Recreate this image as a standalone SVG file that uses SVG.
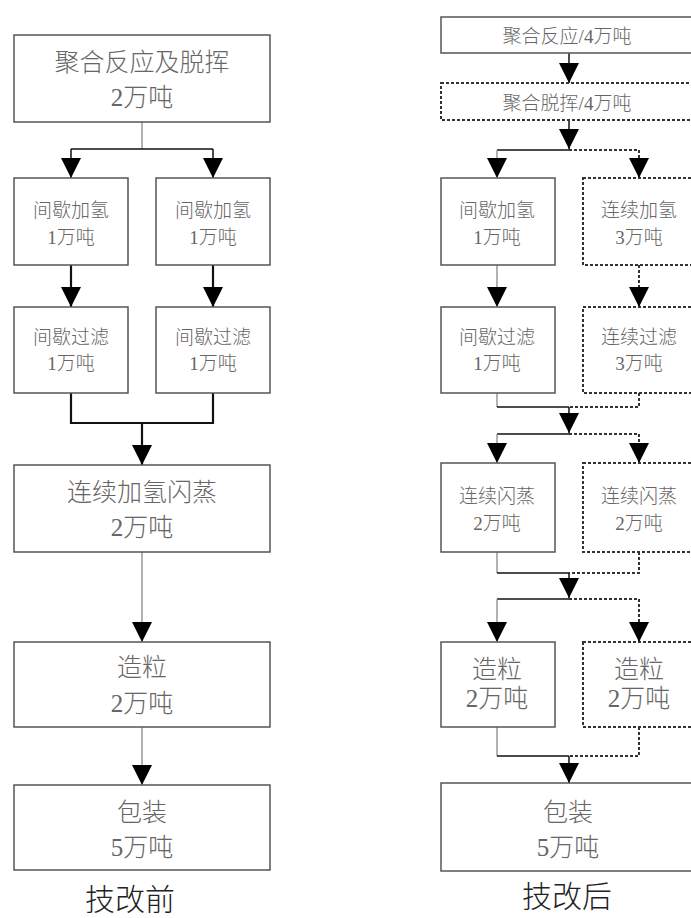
<svg xmlns="http://www.w3.org/2000/svg" width="691" height="918" viewBox="0 0 691 918">
<style>
.box{fill:#fff;stroke:#555;stroke-width:1.5}
.dbox{fill:#fff;stroke:#333;stroke-width:2;stroke-dasharray:3 2}
.t{font-family:"Liberation Serif","Noto Sans CJK SC",serif;font-weight:300;fill:#666;text-anchor:middle;dominant-baseline:central}
.s{font-size:19px}
.b{font-size:25px}
.title{font-size:30px;fill:#222}
.g{stroke:#999;stroke-width:1.5;fill:none}
.k{stroke:#111;stroke-width:1.5;fill:none}
.kk{stroke:#111;stroke-width:2.2;fill:none}
.d{stroke:#333;stroke-width:2;stroke-dasharray:3 2;fill:none}
</style>
<defs>
<marker id="ah" markerUnits="userSpaceOnUse" markerWidth="21" markerHeight="20" refX="20" refY="10" orient="auto" viewBox="0 0 21 20">
<path d="M0,0 L20,10 L0,20 Z" fill="#000"/>
</marker>
</defs>

<g id="connectors">
<path class="g" d="M142,122 V149"/>
<path class="k" d="M71,149 H213"/>
<path class="k" d="M71,149 V178" marker-end="url(#ah)"/>
<path class="k" d="M213,149 V178" marker-end="url(#ah)"/>
<path class="kk" d="M71,265 V307" marker-end="url(#ah)"/>
<path class="kk" d="M213,265 V307" marker-end="url(#ah)"/>
<path class="kk" d="M71,393 V423 H213 V393"/>
<path class="kk" d="M142,423 V465" marker-end="url(#ah)"/>
<path class="g" d="M142,552 V642" marker-end="url(#ah)"/>
<path class="g" d="M142,727 V785" marker-end="url(#ah)"/>
<path class="k" d="M569,53 V83" marker-end="url(#ah)"/>
<path class="k" d="M569,120 V149" marker-end="url(#ah)"/>
<path class="k" d="M569,150 H497"/>
<path class="g" d="M497,150 V178" marker-end="url(#ah)"/>
<path class="d" d="M569,150 H639 V178" marker-end="url(#ah)"/>
<path class="g" d="M497,265 V307" marker-end="url(#ah)"/>
<path class="d" d="M639,265 V307" marker-end="url(#ah)"/>
<path class="g" d="M497,393 V407"/>
<path class="k" d="M497,407 H569"/>
<path class="d" d="M639,393 V407 H569"/>
<path class="k" d="M569,407 V433" marker-end="url(#ah)"/>
<path class="k" d="M569,434 H497"/>
<path class="g" d="M497,434 V463" marker-end="url(#ah)"/>
<path class="d" d="M569,434 H639 V463" marker-end="url(#ah)"/>
<path class="g" d="M497,552 V573"/>
<path class="k" d="M497,573 H569"/>
<path class="d" d="M639,552 V573 H569"/>
<path class="k" d="M569,573 V598" marker-end="url(#ah)"/>
<path class="k" d="M569,599 H497"/>
<path class="g" d="M497,599 V642" marker-end="url(#ah)"/>
<path class="d" d="M569,599 H639 V642" marker-end="url(#ah)"/>
<path class="g" d="M497,727 V756"/>
<path class="k" d="M497,756 H569"/>
<path class="d" d="M639,727 V756 H569"/>
<path class="k" d="M569,756 V783" marker-end="url(#ah)"/>
</g>

<g id="L1"><rect class="box" x="14" y="35" width="256" height="87"/>
<text class="t b" x="142" y="62">聚合反应及脱挥</text><text class="t b" x="142" y="97">2万吨</text></g>
<g id="L2a"><rect class="box" x="14" y="178" width="114" height="87"/>
<text class="t s" x="71" y="210">间歇加氢</text><text class="t s" x="71" y="237">1万吨</text></g>
<g id="L2b"><rect class="box" x="156" y="178" width="114" height="87"/>
<text class="t s" x="213" y="210">间歇加氢</text><text class="t s" x="213" y="237">1万吨</text></g>
<g id="L3a"><rect class="box" x="14" y="307" width="114" height="86"/>
<text class="t s" x="71" y="337">间歇过滤</text><text class="t s" x="71" y="363">1万吨</text></g>
<g id="L3b"><rect class="box" x="156" y="307" width="114" height="86"/>
<text class="t s" x="213" y="337">间歇过滤</text><text class="t s" x="213" y="363">1万吨</text></g>
<g id="L4"><rect class="box" x="14" y="465" width="256" height="87"/>
<text class="t b" x="142" y="492">连续加氢闪蒸</text><text class="t b" x="142" y="527">2万吨</text></g>
<g id="L5"><rect class="box" x="14" y="642" width="256" height="85"/>
<text class="t b" x="142" y="667">造粒</text><text class="t b" x="142" y="703">2万吨</text></g>
<g id="L6"><rect class="box" x="14" y="785" width="256" height="85"/>
<text class="t b" x="142" y="812">包装</text><text class="t b" x="142" y="847">5万吨</text></g>
<text class="t title" x="130" y="899">技改前</text>

<g id="R1"><rect class="box" x="441" y="17" width="256" height="36"/>
<text class="t s" x="567" y="36">聚合反应/4万吨</text></g>
<g id="R2"><rect class="dbox" x="441" y="83" width="256" height="37"/>
<text class="t s" x="567" y="103">聚合脱挥/4万吨</text></g>
<g id="R3a"><rect class="box" x="441" y="178" width="114" height="87"/>
<text class="t s" x="497" y="210">间歇加氢</text><text class="t s" x="497" y="237">1万吨</text></g>
<g id="R3b"><rect class="dbox" x="583" y="178" width="114" height="87"/>
<text class="t s" x="639" y="210">连续加氢</text><text class="t s" x="639" y="237">3万吨</text></g>
<g id="R4a"><rect class="box" x="441" y="307" width="114" height="86"/>
<text class="t s" x="497" y="337">间歇过滤</text><text class="t s" x="497" y="363">1万吨</text></g>
<g id="R4b"><rect class="dbox" x="583" y="307" width="114" height="86"/>
<text class="t s" x="639" y="337">连续过滤</text><text class="t s" x="639" y="363">3万吨</text></g>
<g id="R5a"><rect class="box" x="441" y="463" width="114" height="89"/>
<text class="t s" x="497" y="496">连续闪蒸</text><text class="t s" x="497" y="523">2万吨</text></g>
<g id="R5b"><rect class="dbox" x="583" y="463" width="114" height="89"/>
<text class="t s" x="639" y="496">连续闪蒸</text><text class="t s" x="639" y="523">2万吨</text></g>
<g id="R6a"><rect class="box" x="441" y="642" width="114" height="85"/>
<text class="t b" x="497" y="669">造粒</text><text class="t b" x="497" y="698">2万吨</text></g>
<g id="R6b"><rect class="dbox" x="583" y="642" width="114" height="85"/>
<text class="t b" x="639" y="669">造粒</text><text class="t b" x="639" y="698">2万吨</text></g>
<g id="R7"><rect class="box" x="441" y="783" width="256" height="88"/>
<text class="t b" x="568" y="812">包装</text><text class="t b" x="568" y="847">5万吨</text></g>
<text class="t title" x="567" y="896">技改后</text>
</svg>
